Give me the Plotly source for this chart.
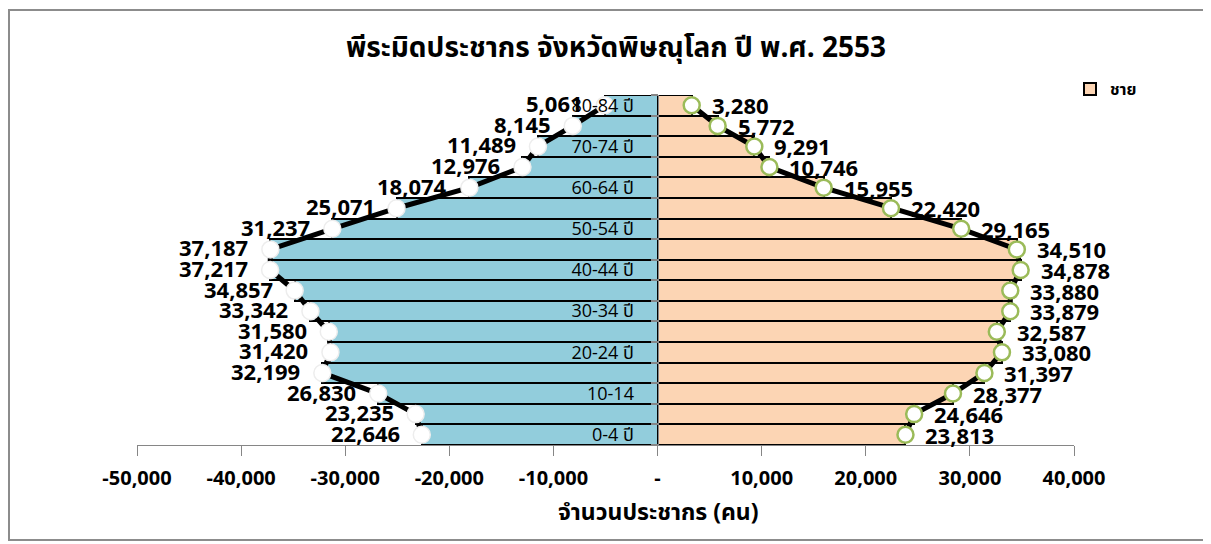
import plotly.graph_objects as go

# ---------------- data ----------------
age_groups = ["0-4", "5-9", "10-14", "15-19", "20-24", "25-29", "30-34", "35-39",
              "40-44", "45-49", "50-54", "55-59", "60-64", "65-69", "70-74",
              "75-79", "80-84"]
female = [22646, 23235, 26830, 32199, 31420, 31580, 33342, 34857, 37217,
          37187, 31237, 25071, 18074, 12976, 11489, 8145, 5061]
male = [23813, 24646, 28377, 31397, 33080, 32587, 33879, 33880, 34878,
        34510, 29165, 22420, 15955, 10746, 9291, 5772, 3280]
ytick_index = [0, 2, 4, 6, 8, 10, 12, 14, 16]
ytick_labels = ["0-4 ปี", "10-14", "20-24 ปี", "30-34 ปี", "40-44 ปี",
                "50-54 ปี", "60-64 ปี", "70-74 ปี", "80-84 ปี"]
xtick_vals = [-50000, -40000, -30000, -20000, -10000, 0, 10000, 20000, 30000, 40000]
xtick_labels = ["-50,000", "-40,000", "-30,000", "-20,000", "-10,000", "-",
                "10,000", "20,000", "30,000", "40,000"]
title_text = "พีระมิดประชากร จังหวัดพิษณุโลก ปี พ.ศ. 2553"
xaxis_title = "จำนวนประชากร (คน)"
male_name = "ชาย"
female_name = "หญิง"

FONT = "Open Sans, Noto Sans Thai, Loma, Garuda, Tahoma, Noto Sans, sans-serif"
BLUE = "#92CDDC"
ORANGE = "#FCD5B4"
GREEN = "#9BBB59"
GRAY = "#868686"
LEFT_GAP = 20
RIGHT_GAP = 18
LABEL_SIZE = 22

pos = list(range(len(age_groups)))
neg_female = [-v for v in female]

fig = go.Figure()

fig.add_trace(go.Bar(
    y=pos, x=neg_female, orientation="h", width=1, name=female_name,
    marker=dict(color=BLUE, line=dict(color="black", width=2)),
    showlegend=False, hoverinfo="skip"))
fig.add_trace(go.Bar(
    y=pos, x=male, orientation="h", width=1, name=male_name,
    marker=dict(color=ORANGE, line=dict(color="black", width=2)),
    showlegend=True, hoverinfo="skip"))

fig.add_trace(go.Scatter(
    y=pos, x=neg_female, mode="lines+markers",
    line=dict(color="black", width=5),
    marker=dict(size=17, color="white", line=dict(color="#EDEDED", width=1.5)),
    showlegend=False, hoverinfo="skip", cliponaxis=False))
fig.add_trace(go.Scatter(
    y=pos, x=male, mode="lines+markers",
    line=dict(color="black", width=5),
    marker=dict(size=16, color="white", line=dict(color=GREEN, width=2.5)),
    showlegend=False, hoverinfo="skip", cliponaxis=False))

# page body has an 8px margin; work in figure pixels
OFF = 8
W, H = 1211 - OFF, 544 - OFF
L, T = 137 - OFF, 95 - OFF
R = W - (1074 - OFF)
B = H - (445 - OFF)
pw, ph = W - L - R, H - T - B


def px(wx):
    return (wx - OFF - L) / pw


def py(wy):
    return (H - B - (wy - OFF)) / ph


zero_frac = 50000 / 90000

label_font = dict(family=FONT, size=LABEL_SIZE, color="black", weight="bold")
annotations = []
for i, v in zip(pos, female):
    annotations.append(dict(text=f"{v:,}", x=-v, y=i, xref="x", yref="y",
                            xanchor="right", yanchor="middle", xshift=-LEFT_GAP,
                            yshift=2, showarrow=False, font=label_font))
for i, v in zip(pos, male):
    annotations.append(dict(text=f"{v:,}", x=v, y=i, xref="x", yref="y",
                            xanchor="left", yanchor="middle", xshift=RIGHT_GAP,
                            yshift=0, showarrow=False, font=label_font))
annotations.append(dict(text=xaxis_title, x=0, xref="x", y=py(511), yref="paper",
                        xanchor="center", yanchor="middle", showarrow=False,
                        font=dict(family=FONT, size=23, color="black", weight="bold")))

fig.update_layout(
    width=W, height=H,
    margin=dict(l=L, r=R, t=T, b=B),
    paper_bgcolor="white", plot_bgcolor="white",
    barmode="overlay", bargap=0,
    font=dict(family=FONT, color="black"),
    title=dict(text=title_text, x=(616 - OFF) / W, xanchor="center",
               y=1 - (47 - OFF) / H, yanchor="middle",
               font=dict(family=FONT, size=28, color="black", weight="bold")),
    legend=dict(x=px(1070), y=py(89), xanchor="left", yanchor="middle",
                bgcolor="rgba(0,0,0,0)", borderwidth=0,
                font=dict(family=FONT, size=16, color="black", weight="bold"),
                itemwidth=30),
    xaxis=dict(range=[-50000, 40000], tickvals=xtick_vals, ticktext=xtick_labels,
               showgrid=False, zeroline=False, showline=True, linecolor=GRAY, linewidth=1,
               ticks="outside", ticklen=10, tickcolor=GRAY, tickwidth=1,
               ticklabelstandoff=5,
               tickfont=dict(family=FONT, size=20, color="black", weight="bold"),
               fixedrange=True),
    yaxis=dict(range=[-0.5, 16.5], tickvals=ytick_index, ticktext=ytick_labels,
               anchor="free", position=zero_frac,
               showgrid=False, zeroline=False, showline=True, linecolor=GRAY, linewidth=1,
               ticks="", ticklabelstandoff=20,
               minor=dict(ticks="outside", tick0=-0.5, dtick=1, ticklen=7,
                          tickcolor=GRAY, tickwidth=1.5, showgrid=False),
               tickfont=dict(family=FONT, size=18, color="black"),
               fixedrange=True),
    annotations=annotations,
    shapes=[dict(type="rect", xref="paper", yref="paper",
                 x0=(1 - L) / pw, x1=(1199 - L) / pw,
                 y0=(H - B - 532) / ph, y1=(H - B - 2) / ph,
                 line=dict(color="#8C8C8C", width=2), layer="below")],
)

fig.write_html("out.html")
